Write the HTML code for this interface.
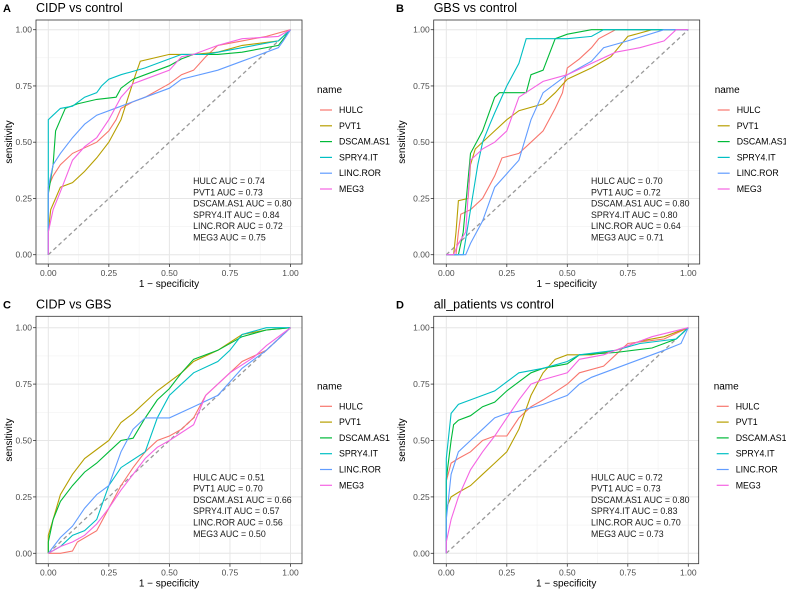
<!DOCTYPE html>
<html><head><meta charset="utf-8">
<style>
body{margin:0;background:#fff;width:786px;height:594px;overflow:hidden;font-family:"Liberation Sans",sans-serif}
svg text{font-family:"Liberation Sans",sans-serif}
</style></head>
<body>
<svg id="chart" width="786" height="594" xmlns="http://www.w3.org/2000/svg"></svg>
<script>
const seriesNames = ["HULC","PVT1","DSCAM.AS1","SPRY4.IT","LINC.ROR","MEG3"];
const seriesColors = ["#F8766D","#B79F00","#00BA38","#00BFC4","#619CFF","#F564E3"];
const axisTicks = [0,0.25,0.5,0.75,1];
const tickLabels = ["0.00","0.25","0.50","0.75","1.00"];
const panelTitles = ["CIDP vs control","GBS vs control","CIDP vs GBS","all_patients vs control"];
const panelLetters = ["A","B","C","D"];
const aucA = ["0.74","0.73","0.80","0.84","0.72","0.75"];
const aucB = ["0.70","0.72","0.80","0.80","0.64","0.71"];
const aucC = ["0.51","0.70","0.66","0.57","0.56","0.50"];
const aucD = ["0.72","0.73","0.80","0.83","0.70","0.73"];

const A_HULC=[[0,0],[0,0.3],[0.02,0.35],[0.05,0.4],[0.1,0.45],[0.2,0.5],[0.25,0.55],[0.28,0.6],[0.3,0.65],[0.35,0.68],[0.4,0.7],[0.5,0.76],[0.55,0.8],[0.6,0.82],[0.65,0.88],[0.7,0.93],[0.8,0.95],[0.9,0.97],[1,1]];
const A_PVT1=[[0,0],[0,0.1],[0.01,0.2],[0.03,0.25],[0.05,0.3],[0.1,0.32],[0.15,0.37],[0.2,0.43],[0.25,0.5],[0.3,0.6],[0.33,0.7],[0.36,0.8],[0.38,0.86],[0.5,0.89],[0.6,0.89],[0.7,0.9],[0.8,0.93],[0.95,0.95],[1,1]];
const A_DSCAM=[[0,0],[0,0.27],[0.02,0.4],[0.03,0.55],[0.05,0.6],[0.07,0.65],[0.12,0.67],[0.2,0.69],[0.28,0.7],[0.3,0.74],[0.35,0.78],[0.4,0.8],[0.5,0.84],[0.55,0.87],[0.6,0.89],[0.7,0.89],[0.8,0.9],[0.95,0.93],[1,1]];
const A_SPRY4=[[0,0],[0,0.6],[0.02,0.62],[0.05,0.65],[0.1,0.66],[0.15,0.7],[0.2,0.72],[0.22,0.75],[0.25,0.78],[0.3,0.8],[0.4,0.83],[0.5,0.87],[0.55,0.89],[0.65,0.89],[0.8,0.92],[0.95,0.95],[1,1]];
const A_LINC=[[0,0],[0,0.3],[0.02,0.4],[0.05,0.45],[0.1,0.52],[0.15,0.58],[0.2,0.62],[0.3,0.66],[0.4,0.7],[0.5,0.74],[0.55,0.78],[0.7,0.82],[0.8,0.86],[0.9,0.9],[0.95,0.92],[0.97,0.95],[1,1]];
const A_MEG3=[[0,0],[0,0.1],[0.02,0.2],[0.05,0.28],[0.1,0.42],[0.15,0.48],[0.2,0.52],[0.25,0.6],[0.3,0.7],[0.35,0.76],[0.4,0.78],[0.5,0.82],[0.55,0.88],[0.6,0.89],[0.7,0.93],[0.8,0.96],[0.95,0.97],[1,1]];

const B_HULC=[[0,0],[0.04,0],[0.05,0.1],[0.06,0.18],[0.1,0.2],[0.15,0.25],[0.2,0.35],[0.23,0.43],[0.3,0.45],[0.35,0.5],[0.4,0.55],[0.45,0.65],[0.48,0.72],[0.5,0.83],[0.55,0.87],[0.6,0.92],[0.63,0.96],[0.7,1],[1,1]];
const B_PVT1=[[0,0],[0.03,0],[0.04,0.1],[0.05,0.24],[0.09,0.25],[0.1,0.4],[0.12,0.47],[0.2,0.55],[0.25,0.6],[0.3,0.64],[0.4,0.67],[0.45,0.72],[0.5,0.78],[0.6,0.83],[0.68,0.88],[0.75,0.97],[0.85,1],[1,1]];
const B_DSCAM=[[0,0],[0.05,0],[0.07,0.1],[0.1,0.45],[0.15,0.55],[0.2,0.7],[0.22,0.72],[0.33,0.72],[0.35,0.8],[0.4,0.82],[0.45,0.96],[0.5,0.98],[0.6,1],[1,1]];
const B_SPRY4=[[0,0],[0.07,0],[0.1,0.2],[0.13,0.4],[0.15,0.5],[0.18,0.58],[0.2,0.63],[0.25,0.75],[0.3,0.85],[0.33,0.96],[0.5,0.96],[0.6,0.97],[0.65,1],[1,1]];
const B_LINC=[[0,0],[0.08,0],[0.1,0.05],[0.15,0.15],[0.2,0.3],[0.25,0.36],[0.3,0.42],[0.35,0.6],[0.4,0.72],[0.5,0.8],[0.6,0.86],[0.65,0.92],[0.75,0.95],[0.9,1],[1,1]];
const B_MEG3=[[0,0],[0.03,0],[0.05,0.05],[0.08,0.1],[0.1,0.42],[0.15,0.47],[0.2,0.5],[0.25,0.55],[0.3,0.7],[0.4,0.77],[0.5,0.8],[0.6,0.85],[0.7,0.9],[0.8,0.92],[0.9,0.95],[0.95,1],[1,1]];

const C_HULC=[[0,0],[0.05,0],[0.1,0.01],[0.12,0.05],[0.2,0.1],[0.25,0.2],[0.3,0.3],[0.35,0.38],[0.4,0.45],[0.45,0.5],[0.5,0.52],[0.55,0.55],[0.6,0.6],[0.65,0.7],[0.7,0.75],[0.8,0.85],[0.9,0.9],[1,1]];
const C_PVT1=[[0,0],[0,0.08],[0.02,0.15],[0.05,0.26],[0.1,0.35],[0.15,0.42],[0.2,0.46],[0.25,0.5],[0.3,0.58],[0.35,0.62],[0.4,0.67],[0.45,0.72],[0.5,0.76],[0.55,0.8],[0.6,0.85],[0.7,0.9],[0.8,0.97],[0.9,0.99],[1,1]];
const C_DSCAM=[[0,0],[0,0.05],[0.02,0.15],[0.05,0.23],[0.1,0.3],[0.15,0.36],[0.2,0.4],[0.25,0.45],[0.3,0.5],[0.35,0.51],[0.4,0.6],[0.45,0.68],[0.5,0.73],[0.55,0.8],[0.6,0.86],[0.7,0.9],[0.8,0.96],[0.9,0.99],[1,1]];
const C_SPRY4=[[0,0],[0.05,0.03],[0.1,0.08],[0.15,0.1],[0.2,0.15],[0.25,0.3],[0.3,0.38],[0.4,0.45],[0.45,0.6],[0.5,0.7],[0.6,0.8],[0.7,0.85],[0.75,0.9],[0.8,0.97],[0.9,1],[1,1]];
const C_LINC=[[0,0],[0.05,0.07],[0.1,0.12],[0.15,0.2],[0.2,0.26],[0.25,0.3],[0.3,0.45],[0.35,0.55],[0.4,0.6],[0.5,0.6],[0.6,0.65],[0.7,0.7],[0.8,0.82],[0.9,0.9],[1,1]];
const C_MEG3=[[0,0],[0.05,0.03],[0.1,0.05],[0.15,0.08],[0.2,0.13],[0.25,0.2],[0.3,0.28],[0.35,0.35],[0.4,0.42],[0.45,0.47],[0.5,0.5],[0.6,0.57],[0.65,0.7],[0.75,0.8],[0.85,0.87],[0.9,0.92],[1,1]];

const D_HULC=[[0,0],[0,0.32],[0.02,0.4],[0.05,0.42],[0.1,0.45],[0.15,0.5],[0.2,0.52],[0.25,0.52],[0.3,0.6],[0.35,0.65],[0.4,0.68],[0.5,0.75],[0.55,0.8],[0.65,0.83],[0.7,0.88],[0.75,0.93],[0.9,0.95],[1,1]];
const D_PVT1=[[0,0],[0,0.2],[0.02,0.25],[0.05,0.27],[0.1,0.3],[0.15,0.35],[0.2,0.4],[0.25,0.45],[0.3,0.55],[0.35,0.7],[0.4,0.8],[0.45,0.86],[0.5,0.88],[0.6,0.88],[0.7,0.9],[0.8,0.94],[0.9,0.96],[1,1]];
const D_DSCAM=[[0,0],[0,0.33],[0.02,0.5],[0.03,0.57],[0.05,0.59],[0.1,0.61],[0.15,0.65],[0.2,0.67],[0.25,0.72],[0.3,0.76],[0.35,0.8],[0.4,0.82],[0.5,0.84],[0.55,0.88],[0.7,0.89],[0.85,0.91],[0.95,0.95],[1,1]];
const D_SPRY4=[[0,0],[0,0.42],[0.02,0.62],[0.05,0.66],[0.1,0.68],[0.2,0.72],[0.25,0.76],[0.3,0.8],[0.4,0.82],[0.5,0.85],[0.55,0.88],[0.7,0.9],[0.8,0.93],[0.95,0.95],[1,1]];
const D_LINC=[[0,0],[0,0.15],[0.02,0.35],[0.05,0.45],[0.1,0.5],[0.15,0.55],[0.2,0.6],[0.25,0.62],[0.3,0.63],[0.4,0.66],[0.5,0.7],[0.55,0.75],[0.6,0.78],[0.7,0.82],[0.8,0.86],[0.9,0.9],[0.97,0.93],[1,1]];
const D_MEG3=[[0,0],[0,0.05],[0.02,0.15],[0.05,0.25],[0.1,0.37],[0.15,0.45],[0.2,0.52],[0.25,0.6],[0.3,0.68],[0.35,0.75],[0.4,0.77],[0.5,0.8],[0.55,0.86],[0.65,0.88],[0.75,0.92],[0.85,0.96],[1,1]];

const panelCurves=[[A_HULC,A_PVT1,A_DSCAM,A_SPRY4,A_LINC,A_MEG3],[B_HULC,B_PVT1,B_DSCAM,B_SPRY4,B_LINC,B_MEG3],[C_HULC,C_PVT1,C_DSCAM,C_SPRY4,C_LINC,C_MEG3],[D_HULC,D_PVT1,D_DSCAM,D_SPRY4,D_LINC,D_MEG3]];
const panelAucs=[aucA,aucB,aucC,aucD];

const NS="http://www.w3.org/2000/svg";
const svg=document.getElementById('chart');
function mk(tag,attrs,parent,text){const e=document.createElementNS(NS,tag);for(const k in attrs)e.setAttribute(k,attrs[k]);if(text!==undefined)e.textContent=text;parent.appendChild(e);return e;}

const layouts=[
 {ox:0,px0:36,px1:302,x0:48.3,x1:290.5,py0:20,py1:264,y1:29.7,y0:254.7},
 {ox:393,px0:433.7,px1:699.7,x0:446.3,x1:688.3,py0:20,py1:264,y1:29.7,y0:254.7},
 {ox:0,px0:36,px1:302,x0:48.3,x1:290.5,py0:316.3,py1:563.7,y1:327.7,y0:553.3},
 {ox:393,px0:433.7,px1:698.7,x0:446.3,x1:688.3,py0:316.3,py1:563.7,y1:327.7,y0:553.3}
];

layouts.forEach((L,p)=>{
  const g=mk('g',{},svg);
  
  
  const sx=v=>L.x0+v*(L.x1-L.x0);
  const sy=v=>L.y0-v*(L.y0-L.y1);
  const ty=L.py0-14;
  const letter=mk('text',{x:L.ox+3,y:ty+6,'font-size':11,'font-weight':'bold',fill:'#000'},g,panelLetters[p]);
  
  
  const title=mk('text',{x:L.px0,y:ty+6,'font-size':12.5,fill:'#000'},g,panelTitles[p]);
  
  
  mk('rect',{x:L.px0,y:L.py0,width:L.px1-L.px0,height:L.py1-L.py0,fill:'#fff'},g);
  [0.125,0.375,0.625,0.875].forEach(v=>{
    mk('line',{x1:sx(v),x2:sx(v),y1:L.py0,y2:L.py1,stroke:'#f2f2f2','stroke-width':0.6},g);
    mk('line',{x1:L.px0,x2:L.px1,y1:sy(v),y2:sy(v),stroke:'#f2f2f2','stroke-width':0.6},g);
  });
  axisTicks.forEach((v,i)=>{
    mk('line',{x1:sx(v),x2:sx(v),y1:L.py0,y2:L.py1,stroke:'#e6e6e6','stroke-width':1},g);
    mk('line',{x1:L.px0,x2:L.px1,y1:sy(v),y2:sy(v),stroke:'#e6e6e6','stroke-width':1},g);
    mk('line',{x1:sx(v),x2:sx(v),y1:L.py1,y2:L.py1+3,stroke:'#333','stroke-width':0.8},g);
    mk('line',{x1:L.px0-3,x2:L.px0,y1:sy(v),y2:sy(v),stroke:'#333','stroke-width':0.8},g);
    const xt=mk('text',{x:sx(v),y:L.py1+12,'font-size':8.5,fill:'#4d4d4d','text-anchor':'middle'},g,tickLabels[i]);
    
    
    const yt=mk('text',{x:L.px0-4,y:sy(v)+3,'font-size':8.5,fill:'#4d4d4d','text-anchor':'end'},g,tickLabels[i]);
    
    
  });
  const diag=mk('line',{x1:sx(0),y1:sy(0),x2:sx(1),y2:sy(1),stroke:'#999','stroke-width':1.3,'stroke-dasharray':'4,3'},g);
  
  
  panelCurves[p].forEach((pts,s)=>{
    const d=pts.map((q,i)=>(i?'L':'M')+sx(q[0]).toFixed(1)+','+sy(q[1]).toFixed(1)).join('');
    const path=mk('path',{d:d,fill:'none',stroke:seriesColors[s],'stroke-width':1.1},g);
    
    
  });
  mk('rect',{x:L.px0,y:L.py0,width:L.px1-L.px0,height:L.py1-L.py0,fill:'none',stroke:'#333','stroke-width':0.8},g);
  const xl=mk('text',{x:(L.px0+L.px1)/2,y:L.py1+23,'font-size':10,fill:'#000','text-anchor':'middle'},g,'1 − specificity');
  
  
  const ycx=L.ox+12, ycy=(L.py0+L.py1)/2;
  const yl=mk('text',{x:ycx,y:ycy,'font-size':10,fill:'#000','text-anchor':'middle',transform:'rotate(-90 '+ycx+' '+ycy+')'},g,'sensitivity');
  
  
  const ax=sx(0.6)-0.5, ay0=L.py0+164;
  seriesNames.forEach((n,s)=>{
    const t=mk('text',{x:ax,y:ay0+s*11.3,'font-size':8.8,fill:'#1a1a1a'},g,n+' AUC = '+panelAucs[p][s]);
    
    
  });
  const lx=L.px1+15, ly=L.py0+73;
  const lt=mk('text',{x:lx,y:ly,'font-size':10,fill:'#000'},g,'name');
  
  
  seriesNames.forEach((n,s)=>{
    const yy=ly+17+s*15.8;
    const lg=mk('g',{},g);
    
    
    mk('line',{x1:lx+3,x2:lx+15,y1:yy,y2:yy,stroke:seriesColors[s],'stroke-width':1.2},lg);
    mk('text',{x:lx+22,y:yy+3,'font-size':8.8,fill:'#000'},lg,n);
  });
});
</script>
</body></html>
